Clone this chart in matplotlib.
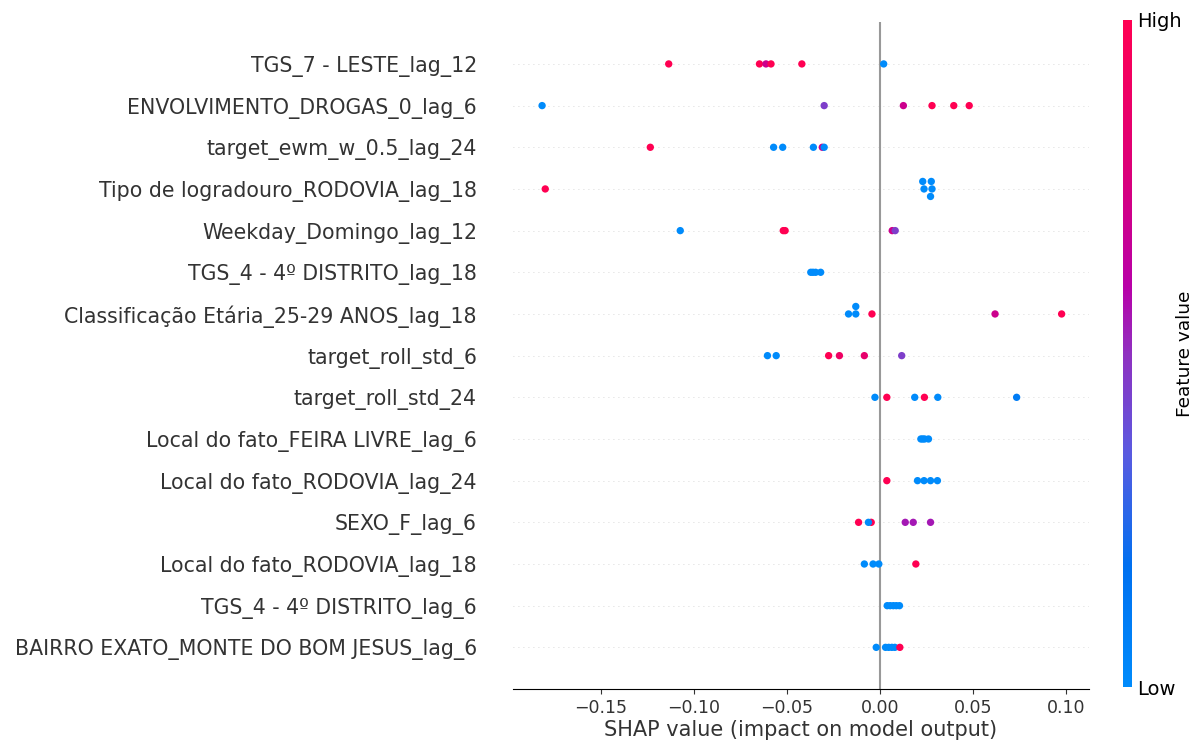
import numpy as np
import matplotlib
matplotlib.use("Agg")
import matplotlib.pyplot as plt
from matplotlib.colors import LinearSegmentedColormap

# features, top to bottom
features = [
    "TGS_7 - LESTE_lag_12",
    "ENVOLVIMENTO_DROGAS_0_lag_6",
    "target_ewm_w_0.5_lag_24",
    "Tipo de logradouro_RODOVIA_lag_18",
    "Weekday_Domingo_lag_12",
    "TGS_4 - 4º DISTRITO_lag_18",
    "Classificação Etária_25-29 ANOS_lag_18",
    "target_roll_std_6",
    "target_roll_std_24",
    "Local do fato_FEIRA LIVRE_lag_6",
    "Local do fato_RODOVIA_lag_24",
    "SEXO_F_lag_6",
    "Local do fato_RODOVIA_lag_18",
    "TGS_4 - 4º DISTRITO_lag_6",
    "BAIRRO EXATO_MONTE DO BOM JESUS_lag_6",
]

# shap values per feature (same order)
shap_values = [
    [-0.1136, -0.0648, -0.0613, -0.0586, -0.0420, 0.0020],
    [-0.1817, -0.0300, 0.0126, 0.0280, 0.0397, 0.0480],
    [-0.1235, -0.0572, -0.0523, -0.0358, -0.0310, -0.0300],
    [-0.1800, 0.0230, 0.0237, 0.0272, 0.0276, 0.0280],
    [-0.1074, -0.0520, -0.0510, 0.0066, 0.0082],
    [-0.0372, -0.0360, -0.0346, -0.0319],
    [-0.0169, -0.0130, -0.0130, -0.0043, 0.0619, 0.0977],
    [-0.0605, -0.0558, -0.0276, -0.0218, -0.0084, 0.0117],
    [-0.0027, 0.0037, 0.0187, 0.0239, 0.0311, 0.0735],
    [0.0220, 0.0230, 0.0240, 0.0261],
    [0.0037, 0.0202, 0.0237, 0.0272, 0.0309],
    [-0.0115, -0.0047, -0.0062, 0.0136, 0.0179, 0.0272],
    [-0.0084, -0.0037, -0.0006, 0.0193],
    [0.0039, 0.0055, 0.0072, 0.0088, 0.0105],
    [-0.0020, 0.0030, 0.0047, 0.0064, 0.0080, 0.0107],
]

# normalised feature values (0 = low, 1 = high)
feature_values = [
    [1.0, 1.0, 0.7, 1.0, 1.0, 0.0],
    [0.0, 0.45, 0.7, 1.0, 1.0, 1.0],
    [1.0, 0.0, 0.0, 0.0, 0.7, 0.0],
    [1.0, 0.0, 0.0, 0.0, 0.0, 0.0],
    [0.0, 1.0, 1.0, 0.7, 0.45],
    [0.0, 0.0, 0.0, 0.0],
    [0.0, 0.0, 0.0, 1.0, 0.7, 1.0],
    [0.0, 0.0, 1.0, 0.9, 0.85, 0.45],
    [0.0, 1.0, 0.0, 1.0, 0.0, 0.1],
    [0.0, 0.0, 0.0, 0.0],
    [1.0, 0.0, 0.0, 0.0, 0.0],
    [1.0, 1.0, 0.0, 0.55, 0.55, 0.55],
    [0.0, 0.0, 0.0, 1.0],
    [0.0, 0.0, 0.0, 0.0, 0.0],
    [0.0, 0.0, 0.0, 0.0, 0.0, 1.0],
]

cmap = LinearSegmentedColormap.from_list("red_blue", [
    (0.0, "#008bfb"), (0.18, "#0070f0"), (0.35, "#5a5ae0"),
    (0.5, "#9030c0"), (0.6, "#b800a8"), (0.78, "#dc0078"), (1.0, "#ff0052")])

fig = plt.figure(figsize=(11.96, 7.42), dpi=100)
ax = fig.add_axes([0.429, 0.0714, 0.4815, 0.8986])

n = len(features)
row_height = 0.4
for i, (sv, fv) in enumerate(zip(shap_values, feature_values)):
    pos = n - 1 - i
    sv = np.array(sv)
    fv = np.array(fv)
    ax.axhline(pos, color="#cccccc", lw=0.6, dashes=(1, 5), zorder=-1)
    # beeswarm layering like shap
    quant = np.round(100 * (sv - sv.min()) / (sv.max() - sv.min() + 1e-8))
    inds = np.lexsort((-sv, quant))
    ys = np.zeros(len(sv))
    layer = 0
    last_bin = -1
    for ind in inds:
        if quant[ind] != last_bin:
            layer = 0
        ys[ind] = np.ceil(layer / 2) * ((layer % 2) * 2 - 1)
        layer += 1
        last_bin = quant[ind]
    ys *= 0.9 * (row_height / np.max(ys + 1))
    ax.scatter(sv, pos + ys, c=fv, cmap=cmap, vmin=0, vmax=1, s=28,
               linewidth=0, zorder=3)

ax.axvline(0, color="#999999", lw=1.5, zorder=-1)
ax.set_xlim(-0.1973, 0.1124)
ax.set_ylim(-1, n)
ax.set_yticks(range(n))
ax.set_yticklabels(features[::-1], fontsize=14.8, color="#333333")
ax.tick_params(axis="y", length=0, pad=26)
ax.tick_params(axis="x", labelsize=12.5, colors="#333333")
ax.set_xlabel("SHAP value (impact on model output)", fontsize=15,
              color="#333333", labelpad=2)
for s in ["top", "right", "left"]:
    ax.spines[s].set_visible(False)

cax = fig.add_axes([0.939, 0.0741, 0.0075, 0.899])
sm = plt.cm.ScalarMappable(cmap=cmap, norm=plt.Normalize(0, 1))
cb = fig.colorbar(sm, cax=cax, ticks=[0, 1])
cb.set_ticklabels(["Low", "High"])
cb.ax.tick_params(labelsize=14, length=0)
cb.set_label("Feature value", size=13.3, labelpad=-4)
cb.outline.set_visible(False)

fig.savefig("out.png", dpi=100)
